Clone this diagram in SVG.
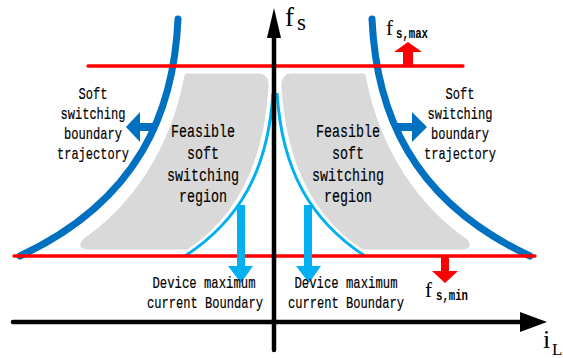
<svg xmlns="http://www.w3.org/2000/svg" width="563" height="358" viewBox="0 0 563 358">
<style>
.region{fill:#D9D9D9;stroke:#FFFFFF;stroke-width:3;stroke-linejoin:round}
.bound{fill:none;stroke:#0070C0;stroke-width:7;stroke-linecap:round}
.dev{fill:none;stroke:#00B0F0;stroke-width:3}
.lim{fill:none;stroke:#FF0000;stroke-width:3.3;stroke-linecap:round}
.axis{fill:none;stroke:#000;stroke-width:4.5;stroke-linecap:round}
.lbl{font-family:"Liberation Mono","DejaVu Sans Mono",monospace;fill:#000;stroke:#000;stroke-width:0.2;text-anchor:middle}
.big{font-size:19px}
.sm{font-size:17px}
.math{font-family:"Liberation Serif","DejaVu Serif",serif;fill:#000}
.sub{font-family:"Liberation Mono","DejaVu Sans Mono",monospace;font-weight:bold;font-size:14px}
</style>
<g id="region-left">
<path class="region" d="M186,72 L258,72 Q271,72 270,88 C265,165 238,218 188,251 L88,251 Q73,250 82,238 C130,205 168,150 182,80 Q183,72 186,72 Z"/>
<text class="lbl big" x="203" y="137" textLength="64" lengthAdjust="spacingAndGlyphs">Feasible</text>
<text class="lbl big" x="203" y="159" textLength="32" lengthAdjust="spacingAndGlyphs">soft</text>
<text class="lbl big" x="203" y="181" textLength="72" lengthAdjust="spacingAndGlyphs">switching</text>
<text class="lbl big" x="203" y="202" textLength="48" lengthAdjust="spacingAndGlyphs">region</text>
</g>
<g id="region-right">
<path class="region" transform="matrix(-1 0 0 1 550 0)" d="M186,72 L258,72 Q271,72 270,88 C265,165 238,218 188,251 L88,251 Q73,250 82,238 C130,205 168,150 182,80 Q183,72 186,72 Z"/>
<text class="lbl big" x="348" y="137" textLength="64" lengthAdjust="spacingAndGlyphs">Feasible</text>
<text class="lbl big" x="348" y="159" textLength="32" lengthAdjust="spacingAndGlyphs">soft</text>
<text class="lbl big" x="348" y="181" textLength="72" lengthAdjust="spacingAndGlyphs">switching</text>
<text class="lbl big" x="348" y="202" textLength="48" lengthAdjust="spacingAndGlyphs">region</text>
</g>
<g id="connectors">
<path class="bound" d="M178,19 C174,110 140,200 20,256"/>
<path class="bound" d="M372,19 C376,110 410,200 530,256"/>
<path class="dev" d="M273,93 C268,170 240,220 185,256"/>
<path class="dev" d="M277,93 C282,170 310,220 365,256"/>
<path class="lim" d="M88,66 L463,66"/>
<path class="lim" d="M14,256 L535,256"/>
<polygon fill="#0070C0" points="157,123 140,123 140,112 126,127 140,142 140,131 157,131"/>
<polygon fill="#0070C0" points="394,123 412,123 412,112 427,127 412,142 412,131 394,131"/>
<polygon fill="#00B0F0" points="237,205 245,205 245,266 253,266 241,283 228,266 237,266"/>
<polygon fill="#00B0F0" points="304,205 312,205 312,266 321,266 309,283 296,266 304,266"/>
<polygon fill="#FF0000" points="403,66 413,66 413,52 422,52 408,42 394,52 403,52"/>
<polygon fill="#FF0000" points="441,256 449,256 449,271 458,271 445,283 432,271 441,271"/>
<path class="axis" d="M274,350 L274,30"/>
<polygon fill="#000" points="274,8 281,38 267,38"/>
<path class="axis" d="M13,322 L525,322"/>
<polygon fill="#000" points="547,322 520,312 520,332"/>
</g>
<g id="label-left">
<text class="lbl sm" x="93" y="99" textLength="29" lengthAdjust="spacingAndGlyphs">Soft</text>
<text class="lbl sm" x="93" y="119" textLength="65" lengthAdjust="spacingAndGlyphs">switching</text>
<text class="lbl sm" x="93" y="139" textLength="58" lengthAdjust="spacingAndGlyphs">boundary</text>
<text class="lbl sm" x="93" y="159" textLength="72" lengthAdjust="spacingAndGlyphs">trajectory</text>
</g>
<g id="label-right">
<text class="lbl sm" x="460" y="99" textLength="29" lengthAdjust="spacingAndGlyphs">Soft</text>
<text class="lbl sm" x="460" y="119" textLength="65" lengthAdjust="spacingAndGlyphs">switching</text>
<text class="lbl sm" x="460" y="139" textLength="58" lengthAdjust="spacingAndGlyphs">boundary</text>
<text class="lbl sm" x="460" y="159" textLength="72" lengthAdjust="spacingAndGlyphs">trajectory</text>
</g>
<g id="device-left">
<text class="lbl sm" x="204" y="288" textLength="103" lengthAdjust="spacingAndGlyphs">Device maximum</text>
<text class="lbl sm" x="205" y="308" textLength="116" lengthAdjust="spacingAndGlyphs">current Boundary</text>
</g>
<g id="device-right">
<text class="lbl sm" x="346" y="288" textLength="103" lengthAdjust="spacingAndGlyphs">Device maximum</text>
<text class="lbl sm" x="346" y="308" textLength="116" lengthAdjust="spacingAndGlyphs">current Boundary</text>
</g>
<g id="fs-axis-label">
<text class="math" x="285" y="26" font-size="27">f<tspan x="297" y="30" font-size="23">s</tspan></text>
</g>
<g id="il-axis-label">
<text class="math" x="543" y="348" font-size="26">i<tspan x="552" y="355" font-size="17">L</tspan></text>
</g>
<g id="fsmax-label">
<text class="math" x="386" y="35" font-size="21">f<tspan class="sub" x="396" y="38" textLength="32" lengthAdjust="spacingAndGlyphs">s,max</tspan></text>
</g>
<g id="fsmin-label">
<text class="math" x="425" y="297" font-size="21">f<tspan class="sub" x="436" y="300" textLength="32" lengthAdjust="spacingAndGlyphs">s,min</tspan></text>
</g>
</svg>
